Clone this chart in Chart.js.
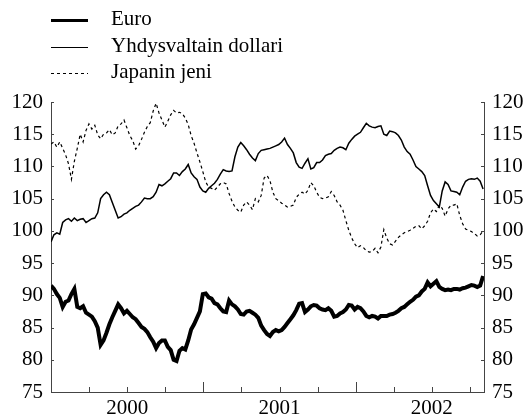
<!DOCTYPE html>
<html>
<head>
<meta charset="utf-8">
<title>Euro, dollari ja jeni</title>
<script src="https://cdn.jsdelivr.net/npm/chart.js@4.4.1/dist/chart.umd.min.js"></script>
<style>
  html, body { margin: 0; padding: 0; background: #fff; }
  canvas { display: block; }
</style>
</head>
<body>
<canvas id="fx" width="526" height="417"></canvas>
<script>
// viikkohavainnot alkaen 2000
const firstObs = 2000.0;
const daysBetweenObs = 7;
const years = [2000, 2001, 2002];
const seriesNames = ['Euro', 'Yhdysvaltain dollari', 'Japanin jeni'];
const yMin = 75, yMax = 120, yStep = 5;

const euro = [
  91.5, 91.0, 90.2, 89.6, 88.2, 89.0, 89.2, 90.2, 91.0, 88.2,
  88.0, 88.3, 87.3, 87.0, 86.7, 86.0, 85.0, 82.3, 83.0, 84.2,
  85.5, 86.6, 87.6, 88.6, 88.0, 87.2, 87.6, 87.1, 86.6, 86.3,
  85.7, 85.1, 84.8, 84.3, 83.5, 82.8, 81.8, 82.6, 83.0, 83.0,
  82.0, 81.5, 80.0, 79.8, 81.4, 81.8, 81.6, 83.0, 84.7, 85.5,
  86.5, 87.5, 90.2, 90.3, 89.7, 89.5, 88.8, 88.6, 88.0, 87.5,
  87.4, 89.2, 88.6, 88.3, 87.8, 87.1, 87.0, 87.5, 87.6, 87.3,
  87.0, 86.5, 85.3, 84.6, 84.0, 83.7, 84.3, 84.6, 84.4, 84.6,
  85.1, 85.7, 86.3, 86.9, 87.7, 88.7, 88.8, 87.4, 87.8, 88.3,
  88.5, 88.4, 88.0, 87.8, 87.7, 88.0, 87.6, 86.7, 86.8, 87.2,
  87.4, 87.8, 88.5, 88.4, 87.8, 88.2, 88.0, 87.5, 86.8, 86.6,
  86.8, 86.7, 86.4, 86.8, 86.8, 86.8, 87.0, 87.1, 87.3, 87.6,
  88.0, 88.2, 88.6, 89.0, 89.3, 89.8, 90.0, 90.6, 91.0, 92.0,
  91.4, 91.8, 92.2, 91.3, 91.0, 90.8, 90.9, 90.8, 91.0, 91.0,
  90.9, 91.1, 91.2, 91.4, 91.6, 91.5, 91.3, 91.5, 93.0
];

const usd = [
  98.3, 99.4, 99.7, 99.5, 101.3, 101.7, 101.9, 101.5, 102.0, 101.6,
  101.8, 101.9, 101.3, 101.6, 101.9, 102.0, 102.8, 105.0, 105.6, 106.0,
  105.6, 104.4, 103.2, 102.0, 102.2, 102.6, 102.8, 103.2, 103.5, 103.8,
  104.0, 104.5, 105.1, 105.0, 105.0, 105.3, 106.0, 107.2, 107.0, 107.3,
  107.7, 108.1, 109.0, 109.0, 108.6, 109.2, 109.6, 110.3, 109.0, 108.4,
  108.0, 106.8, 106.2, 106.0, 106.6, 107.0, 107.4, 108.0, 108.8, 109.5,
  109.3, 109.2, 109.3, 111.5, 113.0, 113.7, 113.2, 112.6, 111.9, 111.3,
  110.9, 112.0, 112.5, 112.6, 112.7, 112.8, 113.0, 113.2, 113.4, 113.8,
  114.4, 113.4, 112.8, 112.1, 110.6, 109.9, 109.7, 110.5, 111.2, 109.6,
  109.8, 110.6, 110.6, 111.0, 111.7, 111.9, 112.0, 112.5, 112.8, 113.0,
  112.9, 112.6, 113.6, 114.2, 114.7, 115.0, 115.3, 116.0, 116.7, 116.3,
  116.1, 116.0, 116.2, 116.3, 115.0, 114.8, 115.5, 115.4, 115.2, 114.8,
  114.1, 113.0, 112.3, 111.9, 111.0, 110.0, 109.6, 109.2, 108.6, 107.0,
  105.5, 104.7, 104.2, 103.7, 106.2, 107.6, 107.2, 106.2, 106.1, 106.0,
  105.6, 106.8, 107.7, 108.0, 108.1, 108.0, 108.2, 107.7, 106.5
];

const jpy = [
  113.5, 113.8, 113.0, 113.8, 112.8, 111.8, 110.4, 108.0, 110.8, 112.8,
  115.0, 113.8, 115.6, 116.6, 115.8, 116.4, 114.9, 114.3, 115.0, 115.2,
  115.7, 114.9, 115.2, 116.3, 116.6, 117.2, 116.0, 114.8, 114.0, 112.7,
  113.2, 114.2, 115.3, 116.2, 116.8, 118.6, 119.8, 118.3, 117.2, 116.1,
  117.0, 118.0, 118.7, 118.3, 118.4, 118.2, 117.5, 116.5, 114.8, 113.6,
  112.1, 110.7, 109.2, 107.6, 106.8, 106.6, 106.3, 106.8, 107.3, 107.5,
  107.3, 105.8, 104.6, 103.7, 103.2, 102.9, 104.0, 104.5, 104.0, 103.3,
  105.0, 104.5, 105.5, 108.2, 108.6, 107.8, 106.0, 105.0, 104.7, 104.3,
  104.0, 103.7, 103.8, 104.0, 105.2, 105.7, 106.0, 105.7, 106.3, 107.5,
  107.0, 106.0, 105.2, 105.0, 105.1, 105.3, 106.1, 105.5, 104.5, 104.0,
  103.2, 101.6, 100.1, 98.9, 98.0, 97.4, 97.7, 97.4, 96.9, 96.7,
  96.8, 97.3, 96.6, 97.5, 100.2, 98.9, 98.0, 97.8, 98.4, 99.0,
  99.4, 99.7, 99.9, 100.1, 100.4, 100.7, 100.8, 100.3, 100.8, 101.5,
  102.8, 103.4, 103.0, 104.0, 103.5, 102.3, 103.4, 104.0, 104.0, 104.2,
  102.4, 101.1, 100.3, 100.1, 99.9, 99.6, 99.2, 99.4, 100.0
];

const serif = "'Liberation Serif', 'Times New Roman', serif";
const axisColor = '#444';

// viikkohavainnot vuosiakselille
function weekly(values) {
  return values.map((v, i) => ({ x: firstObs + i * daysBetweenObs / 365.25, y: v }));
}

// neljännesvuosien jakoviivat, vuosiluku keskelle vuotta
const quarterTicks = [];
years.forEach(y => [0, 0.25, 0.5, 0.75].forEach(q => quarterTicks.push(y + q)));
const lastX = firstObs + (euro.length - 1) * daysBetweenObs / 365.25 + 0.006;

// selite piirretään itse: viivat allekkain
const lineLegend = {
  id: 'lineLegend',
  afterDraw(chart) {
    const ctx = chart.ctx;
    chart.data.datasets.forEach((ds, i) => {
      const y = Math.round(20 + i * 26.5) + 0.5;
      ctx.save();
      ctx.strokeStyle = ds.borderColor;
      ctx.lineWidth = ds.legendWidth;
      ctx.setLineDash(ds.borderDash || []);
      ctx.beginPath();
      ctx.moveTo(51, y);
      ctx.lineTo(88, y);
      ctx.stroke();
      ctx.setLineDash([]);
      ctx.fillStyle = '#000';
      ctx.font = '21px ' + serif;
      ctx.textBaseline = 'middle';
      ctx.fillText(ds.label, 111, y - 1);
      ctx.restore();
    });
  }
};

// jakoviivat sisäänpäin
const inwardTicks = {
  id: 'inwardTicks',
  afterDraw(chart) {
    const { ctx, chartArea: a, scales } = chart;
    ctx.save();
    ctx.strokeStyle = axisColor;
    ctx.lineWidth = 1;
    ctx.beginPath();
    scales.x.ticks.forEach(t => {
      const px = Math.round(scales.x.getPixelForValue(t.value)) + 0.5;
      const len = Number.isInteger(t.value) ? 10 : 5;
      ctx.moveTo(px, a.bottom);
      ctx.lineTo(px, a.bottom - len);
    });
    scales.y.ticks.forEach(t => {
      const py = Math.round(scales.y.getPixelForValue(t.value)) + 0.5;
      ctx.moveTo(a.left, py);
      ctx.lineTo(a.left + 3, py);
      ctx.moveTo(a.right, py);
      ctx.lineTo(a.right - 3, py);
    });
    ctx.stroke();
    ctx.restore();
  }
};

function valueAxis(position, width) {
  return {
    position: position,
    min: yMin,
    max: yMax,
    grid: { display: false, drawTicks: false },
    border: { display: true, color: axisColor, width: 1 },
    ticks: {
      stepSize: yStep,
      padding: 8,
      color: '#000',
      font: { family: serif, size: 21 }
    },
    afterFit: s => { s.width = width; }
  };
}

new Chart(document.getElementById('fx'), {
  type: 'line',
  data: {
    datasets: [
      {
        label: seriesNames[0],
        data: weekly(euro),
        borderColor: '#000',
        borderWidth: 4,
        legendWidth: 3,
        pointRadius: 0,
        tension: 0
      },
      {
        label: seriesNames[1],
        data: weekly(usd),
        borderColor: '#000',
        borderWidth: 1.5,
        legendWidth: 1,
        pointRadius: 0,
        tension: 0
      },
      {
        label: seriesNames[2],
        data: weekly(jpy),
        borderColor: '#000',
        borderWidth: 1.2,
        borderDash: [3, 3],
        legendWidth: 1,
        pointRadius: 0,
        tension: 0
      }
    ]
  },
  options: {
    responsive: false,
    animation: false,
    devicePixelRatio: 1,
    layout: { padding: { top: 102, left: 0, right: 0, bottom: 0 } },
    plugins: {
      legend: { display: false },
      tooltip: { enabled: false }
    },
    scales: {
      x: {
        type: 'linear',
        min: firstObs,
        max: lastX,
        grid: { display: false, drawTicks: false },
        border: { display: true, color: axisColor, width: 1 },
        afterBuildTicks: axis => { axis.ticks = quarterTicks.map(v => ({ value: v })); },
        ticks: {
          autoSkip: false,
          maxRotation: 0,
          padding: 4,
          color: '#000',
          font: { family: serif, size: 21 },
          callback: v => (Math.abs(v % 1 - 0.5) < 1e-6 ? String(Math.floor(v)) : '')
        },
        afterFit: s => { s.height = 25; }
      },
      y: valueAxis('left', 51),
      y2: valueAxis('right', 42)
    }
  },
  plugins: [inwardTicks, lineLegend]
});
</script>
</body>
</html>
